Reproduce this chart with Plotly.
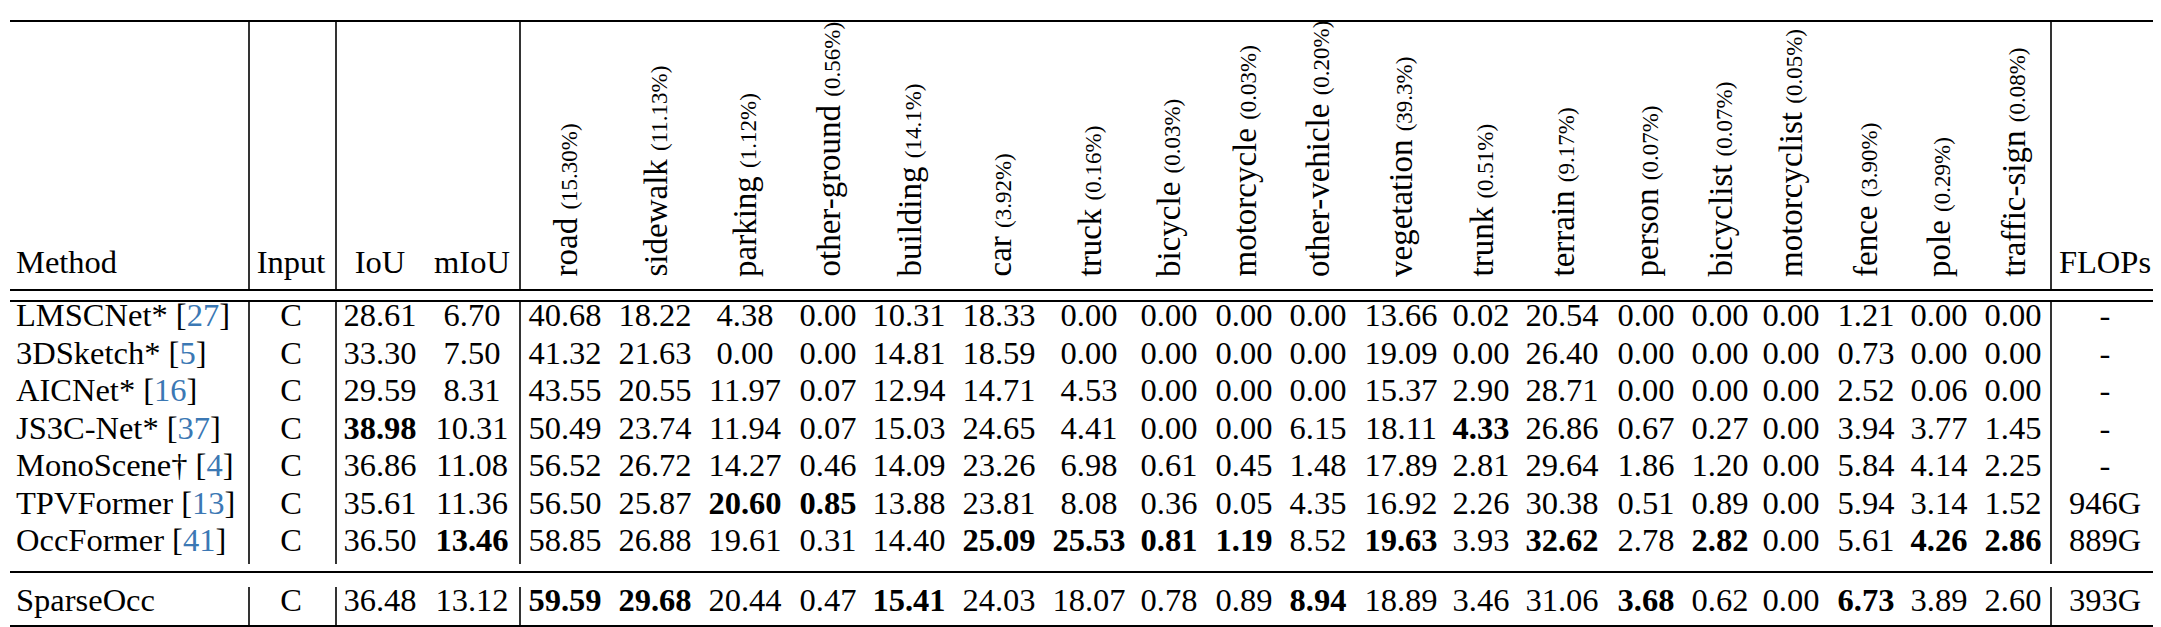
import plotly.graph_objects as go

# ---------------- data ----------------
methods = ["LMSCNet*", "3DSketch*", "AICNet*", "JS3C-Net*", "MonoScene†",
           "TPVFormer", "OccFormer", "SparseOcc"]
citations = ["27", "5", "16", "37", "4", "13", "41", ""]
inputs = ["C", "C", "C", "C", "C", "C", "C", "C"]
iou = [28.61, 33.30, 29.59, 38.98, 36.86, 35.61, 36.50, 36.48]
miou = [6.70, 7.50, 8.31, 10.31, 11.08, 11.36, 13.46, 13.12]
flops = ["-", "-", "-", "-", "-", "946G", "889G", "393G"]

class_names = ["road", "sidewalk", "parking", "other-ground", "building", "car",
               "truck", "bicycle", "motorcycle", "other-vehicle", "vegetation",
               "trunk", "terrain", "person", "bicyclist", "motorcyclist",
               "fence", "pole", "traffic-sign"]
class_freq = ["15.30%", "11.13%", "1.12%", "0.56%", "14.1%", "3.92%", "0.16%",
              "0.03%", "0.03%", "0.20%", "39.3%", "0.51%", "9.17%", "0.07%",
              "0.07%", "0.05%", "3.90%", "0.29%", "0.08%"]

lmscnet = [40.68, 18.22, 4.38, 0.00, 10.31, 18.33, 0.00, 0.00, 0.00, 0.00,
           13.66, 0.02, 20.54, 0.00, 0.00, 0.00, 1.21, 0.00, 0.00]
sketch3d = [41.32, 21.63, 0.00, 0.00, 14.81, 18.59, 0.00, 0.00, 0.00, 0.00,
            19.09, 0.00, 26.40, 0.00, 0.00, 0.00, 0.73, 0.00, 0.00]
aicnet = [43.55, 20.55, 11.97, 0.07, 12.94, 14.71, 4.53, 0.00, 0.00, 0.00,
          15.37, 2.90, 28.71, 0.00, 0.00, 0.00, 2.52, 0.06, 0.00]
js3cnet = [50.49, 23.74, 11.94, 0.07, 15.03, 24.65, 4.41, 0.00, 0.00, 6.15,
           18.11, 4.33, 26.86, 0.67, 0.27, 0.00, 3.94, 3.77, 1.45]
monoscene = [56.52, 26.72, 14.27, 0.46, 14.09, 23.26, 6.98, 0.61, 0.45, 1.48,
             17.89, 2.81, 29.64, 1.86, 1.20, 0.00, 5.84, 4.14, 2.25]
tpvformer = [56.50, 25.87, 20.60, 0.85, 13.88, 23.81, 8.08, 0.36, 0.05, 4.35,
             16.92, 2.26, 30.38, 0.51, 0.89, 0.00, 5.94, 3.14, 1.52]
occformer = [58.85, 26.88, 19.61, 0.31, 14.40, 25.09, 25.53, 0.81, 1.19, 8.52,
             19.63, 3.93, 32.62, 2.78, 2.82, 0.00, 5.61, 4.26, 2.86]
sparseocc = [59.59, 29.68, 20.44, 0.47, 15.41, 24.03, 18.07, 0.78, 0.89, 8.94,
             18.89, 3.46, 31.06, 3.68, 0.62, 0.00, 6.73, 3.89, 2.60]
class_rows = [lmscnet, sketch3d, aicnet, js3cnet, monoscene, tpvformer,
              occformer, sparseocc]

# ---------------- layout constants ----------------
W, H = 2161, 627
FONT = "Liberation Serif, Times New Roman, serif"
FS = 32.5        # body font size
FS_HEAD = 33     # rotated header font size
FS_SMALL = 23    # class-frequency font size
CITE = "#3b78b4"

X_METHOD = 8
X_INPUT = 283
X_IOU = 372
X_MIOU = 464
X_CLASS = [557, 647, 737, 820, 901, 991, 1081, 1161, 1236, 1310, 1393, 1473,
           1554, 1638, 1712, 1783, 1858, 1931, 2005]
X_FLOPS = 2097
ROW_Y = [310, 347.5, 385, 422.5, 460, 497.5, 535, 595]
HEADER_BASE = 268

RULE_L, RULE_R = 2, 2154
Y_TOP, Y_HEAD1, Y_HEAD2, Y_MID, Y_BOT = 13, 282, 293, 564, 618
VLINES = [241, 328, 512, 2043]


def fmt(v, bold):
    s = f"{v:.2f}"
    return f"<b>{s}</b>" if bold else s


def bold_flags(values):
    m = max(values)
    return [(v == m and m > 0) for v in values]


fig = go.Figure()


def add_text_col(x, texts, pos="middle center"):
    fig.add_trace(go.Scatter(
        x=[x] * len(texts), y=ROW_Y[:len(texts)], text=texts, mode="text",
        textposition=pos, hoverinfo="skip", showlegend=False,
        textfont=dict(family=FONT, size=FS, color="black")))


# method names
method_txt = [
    (f"{m} [<span style='color:{CITE}'>{c}</span>]" if c else m)
    for m, c in zip(methods, citations)
]
add_text_col(X_METHOD, method_txt, "middle right")
add_text_col(X_INPUT, inputs)
b = bold_flags(iou)
add_text_col(X_IOU, [fmt(v, f) for v, f in zip(iou, b)])
b = bold_flags(miou)
add_text_col(X_MIOU, [fmt(v, f) for v, f in zip(miou, b)])
for j, x in enumerate(X_CLASS):
    col = [row[j] for row in class_rows]
    b = bold_flags(col)
    add_text_col(x, [fmt(v, f) for v, f in zip(col, b)])
add_text_col(X_FLOPS, flops)

# horizontal header labels
hy = HEADER_BASE - 0.35 * FS
for x, t, pos in [(X_METHOD, "Method", "middle right"), (X_INPUT, "Input", "middle center"),
                  (X_IOU, "IoU", "middle center"), (X_MIOU, "mIoU", "middle center"),
                  (X_FLOPS, "FLOPs", "middle center")]:
    fig.add_trace(go.Scatter(
        x=[x], y=[hy], text=[t], mode="text", textposition=pos,
        hoverinfo="skip", showlegend=False,
        textfont=dict(family=FONT, size=FS, color="black")))

# rotated class headers
for x, name, fr in zip(X_CLASS, class_names, class_freq):
    fig.add_annotation(
        x=x, y=HEADER_BASE + 2, xref="x", yref="y",
        text=f"{name} <span style='font-size:{FS_SMALL}px'>({fr})</span>",
        textangle=-90, showarrow=False, xanchor="center", yanchor="bottom",
        font=dict(family=FONT, size=FS_HEAD, color="black"), borderpad=0)

# rules
def hline(y, w=2.2):
    fig.add_shape(type="line", x0=RULE_L, x1=RULE_R, y0=y, y1=y, xref="x", yref="y",
                  line=dict(color="black", width=w))


for y in (Y_TOP, Y_HEAD1, Y_HEAD2, Y_MID, Y_BOT):
    hline(y)

for x in VLINES:
    for y0, y1 in ((Y_TOP, Y_HEAD1), (Y_HEAD2, 556), (579, Y_BOT)):
        fig.add_shape(type="line", x0=x, x1=x, y0=y0, y1=y1, xref="x", yref="y",
                      line=dict(color="black", width=1.6))

fig.update_layout(
    width=W, height=H, margin=dict(l=0, r=0, t=0, b=0),
    paper_bgcolor="white", plot_bgcolor="white",
    xaxis=dict(range=[0, W], visible=False, fixedrange=True),
    yaxis=dict(range=[H, 0], visible=False, fixedrange=True),
)

fig.write_html("out.html")
